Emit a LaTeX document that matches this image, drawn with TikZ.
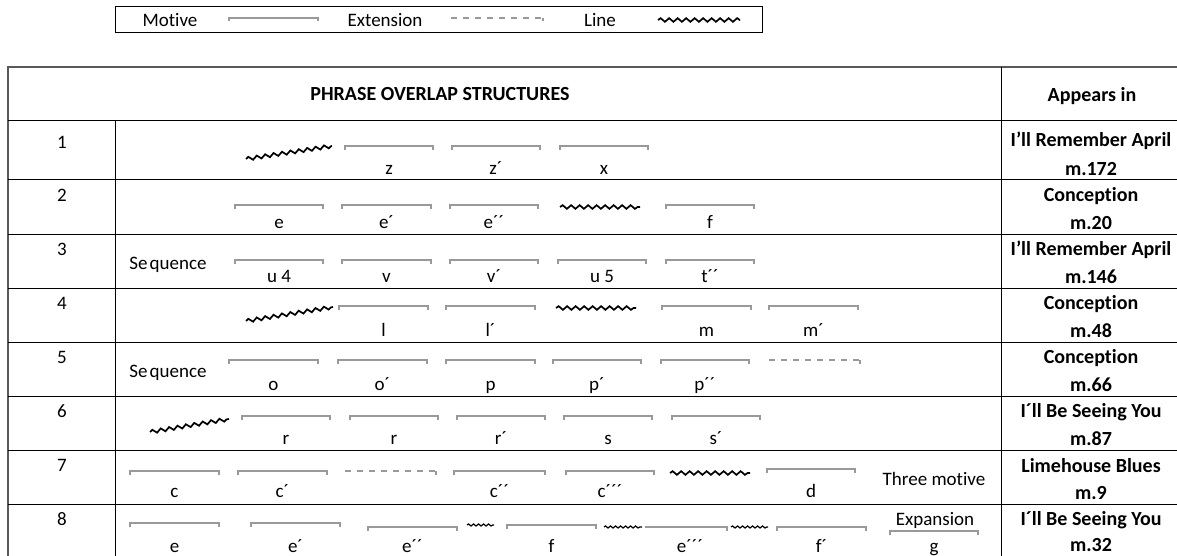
\documentclass[tikz,border=0pt]{standalone}
\usepackage{fontspec}
\setmainfont{Carlito}[Ligatures=NoCommon]
\usetikzlibrary{decorations.pathmorphing}
\tikzset{
  motline/.style={draw=black!40, line width=1.2pt},
  extline/.style={draw=black!40, line width=1.1pt, dash pattern=on 6pt off 6pt},
  wavy/.style={draw=black, line width=1.7pt, decorate, decoration={snake, segment length=8.5pt, amplitude=1.8pt}},
  smallwavy/.style={draw=black, line width=1.2pt, decorate, decoration={snake, segment length=5pt, amplitude=1pt}},
  lab/.style={inner sep=0pt, anchor=base, font=\fontsize{19}{22}\selectfont},
  num/.style={inner sep=0pt, font=\fontsize{19}{22}\selectfont},
  app/.style={inner sep=0pt, font=\fontsize{20}{22}\selectfont\bfseries},
  grid/.style={draw=black, line width=1pt},
  outer/.style={draw=black!65, line width=1.4pt},
}
\newcommand\mot[5]{%
  \draw[motline] (#1,#3+4) -- (#1,#3) -- (#2,#3) -- (#2,#3+4);
  \node[lab] at ({(#1+#2)/2},#4+5) {#5};}
\newcommand\extn[3]{%
  \draw[extline] (#1,#3) -- (#2,#3);
  \draw[motline] (#2,#3) -- (#2,#3+4);}
\newcommand\wav[4]{\draw[wavy] (#1,#2) -- (#3,#4);}
\begin{document}
\begin{tikzpicture}[x=1pt,y=-1pt]
\useasboundingbox (0,0) rectangle (1177,556);
% legend
\draw[black, line width=1pt] (115,7) rectangle (762,33);
\node[lab] (lm) at (170,27) {Motive};
\draw[motline] (229,21) -- (229,18) -- (318,18) -- (318,21);
\node[lab] (le) at (385,27) {Extension};
\draw[extline] (451,18) -- (543,18);
\draw[motline] (543,18) -- (543,21);
\node[lab] (ll) at (600,27) {Line};
\wav{658}{20}{740}{20}
% table lines
\draw[outer] (8,556) -- (8,67) -- (1177,67);
\draw[grid] (8,121) -- (1177,121);
\foreach \y in {180,234,288,342,396,450,504} \draw[grid] (8,\y) -- (1177,\y);
\draw[grid] (115,121) -- (115,556);
\draw[grid] (1001,67) -- (1001,556);
% header
\node[app] (hd) at (440,94) {PHRASE OVERLAP STRUCTURES};
\node[app] (ha) at (1092,96) {Appears in};
% numbers
\foreach \n/\y in {1/142,2/195,3/249,4/303,5/357,6/411,7/465,8/519}
  \node[num] (n\n) at (62,\y) {\n};
% appears in
\node[app] at (1091,141) {I’ll Remember April};
\node[app] at (1091,169) {m.172};
\foreach \t/\m/\y/\d in {{Conception}/{m.20}/180/43,{I’ll Remember April}/{m.146}/234/43,{Conception}/{m.48}/288/43,{Conception}/{m.66}/342/43,{I´ll Be Seeing You}/{m.87}/396/43,{Limehouse Blues}/{m.9}/450/43,{I´ll Be Seeing You}/{m.32}/504/41}{
  \node[app] at (1091,\y+16) {\t};
  \node[app] at (1091,\y+\d) {\m};}
% row 1
\wav{246}{159}{332}{146}
\mot{345}{433}{146}{170}{z}
\mot{452}{540}{146}{170}{z´}
\mot{560}{648}{146}{170}{x}
% row 2
\mot{235}{323}{205}{223}{e}
\mot{342}{431}{205}{223}{e´}
\mot{450}{538}{205}{223}{e´´}
\wav{560}{207}{640}{207}
\mot{666}{754}{205}{223}{f}
% row 3
\node[lab] (s3) at (168,269) {Se\kern2pt quence};
\mot{235}{323}{260}{277}{u 4}
\mot{342}{431}{260}{277}{v}
\mot{450}{538}{260}{277}{v´}
\mot{558}{646}{260}{277}{u 5}
\mot{666}{754}{260}{277}{t´´}
% row 4
\wav{246}{321}{333}{307}
\mot{339}{428}{306}{331}{l}
\mot{446}{535}{306}{331}{l´}
\wav{556}{308}{636}{308}
\mot{662}{751}{306}{331}{m}
\mot{769}{858}{306}{331}{m´}
% row 5
\node[lab] (s5) at (168,377) {Se\kern2pt quence};
\mot{229}{318}{360}{385}{o}
\mot{338}{427}{360}{385}{o´}
\mot{446}{535}{360}{385}{p}
\mot{553}{641}{360}{385}{p´}
\mot{661}{749}{360}{385}{p´´}
\extn{769}{860}{360}
% row 6
\wav{150}{432}{229}{419}
\mot{242}{330}{416}{439}{r}
\mot{350}{438}{416}{439}{r}
\mot{457}{545}{416}{439}{r´}
\mot{564}{652}{416}{439}{s}
\mot{672}{760}{416}{439}{s´}
% row 7
\mot{130}{219}{471}{492}{c}
\mot{238}{327}{471}{492}{c´}
\extn{345}{436}{471}
\mot{454}{545}{471}{492}{c´´}
\mot{566}{654}{471}{492}{c´´´}
\wav{670}{473}{750}{473}
\mot{767}{855}{469}{492}{d}
\node[lab] (tm) at (934,485) {Three motive};
% row 8
\mot{130}{219}{523}{547}{e}
\mot{251}{340}{523}{547}{e´}
\mot{368}{457}{527}{547}{e´´}
\draw[smallwavy] (467,525) -- (494,525);
\mot{507}{596}{525}{547}{f}
\draw[smallwavy] (604,527) -- (642,527);
\draw[motline] (645,527) -- (727,527) -- (727,531);
\node[lab] at (690,552) {e´´´};
\draw[smallwavy] (731,527) -- (768,527);
\mot{777}{866}{527}{547}{f´}
\node[lab] (ex) at (935,525) {Expansion};
\mot{890}{978}{531}{547}{g}
\end{tikzpicture}
\end{document}
